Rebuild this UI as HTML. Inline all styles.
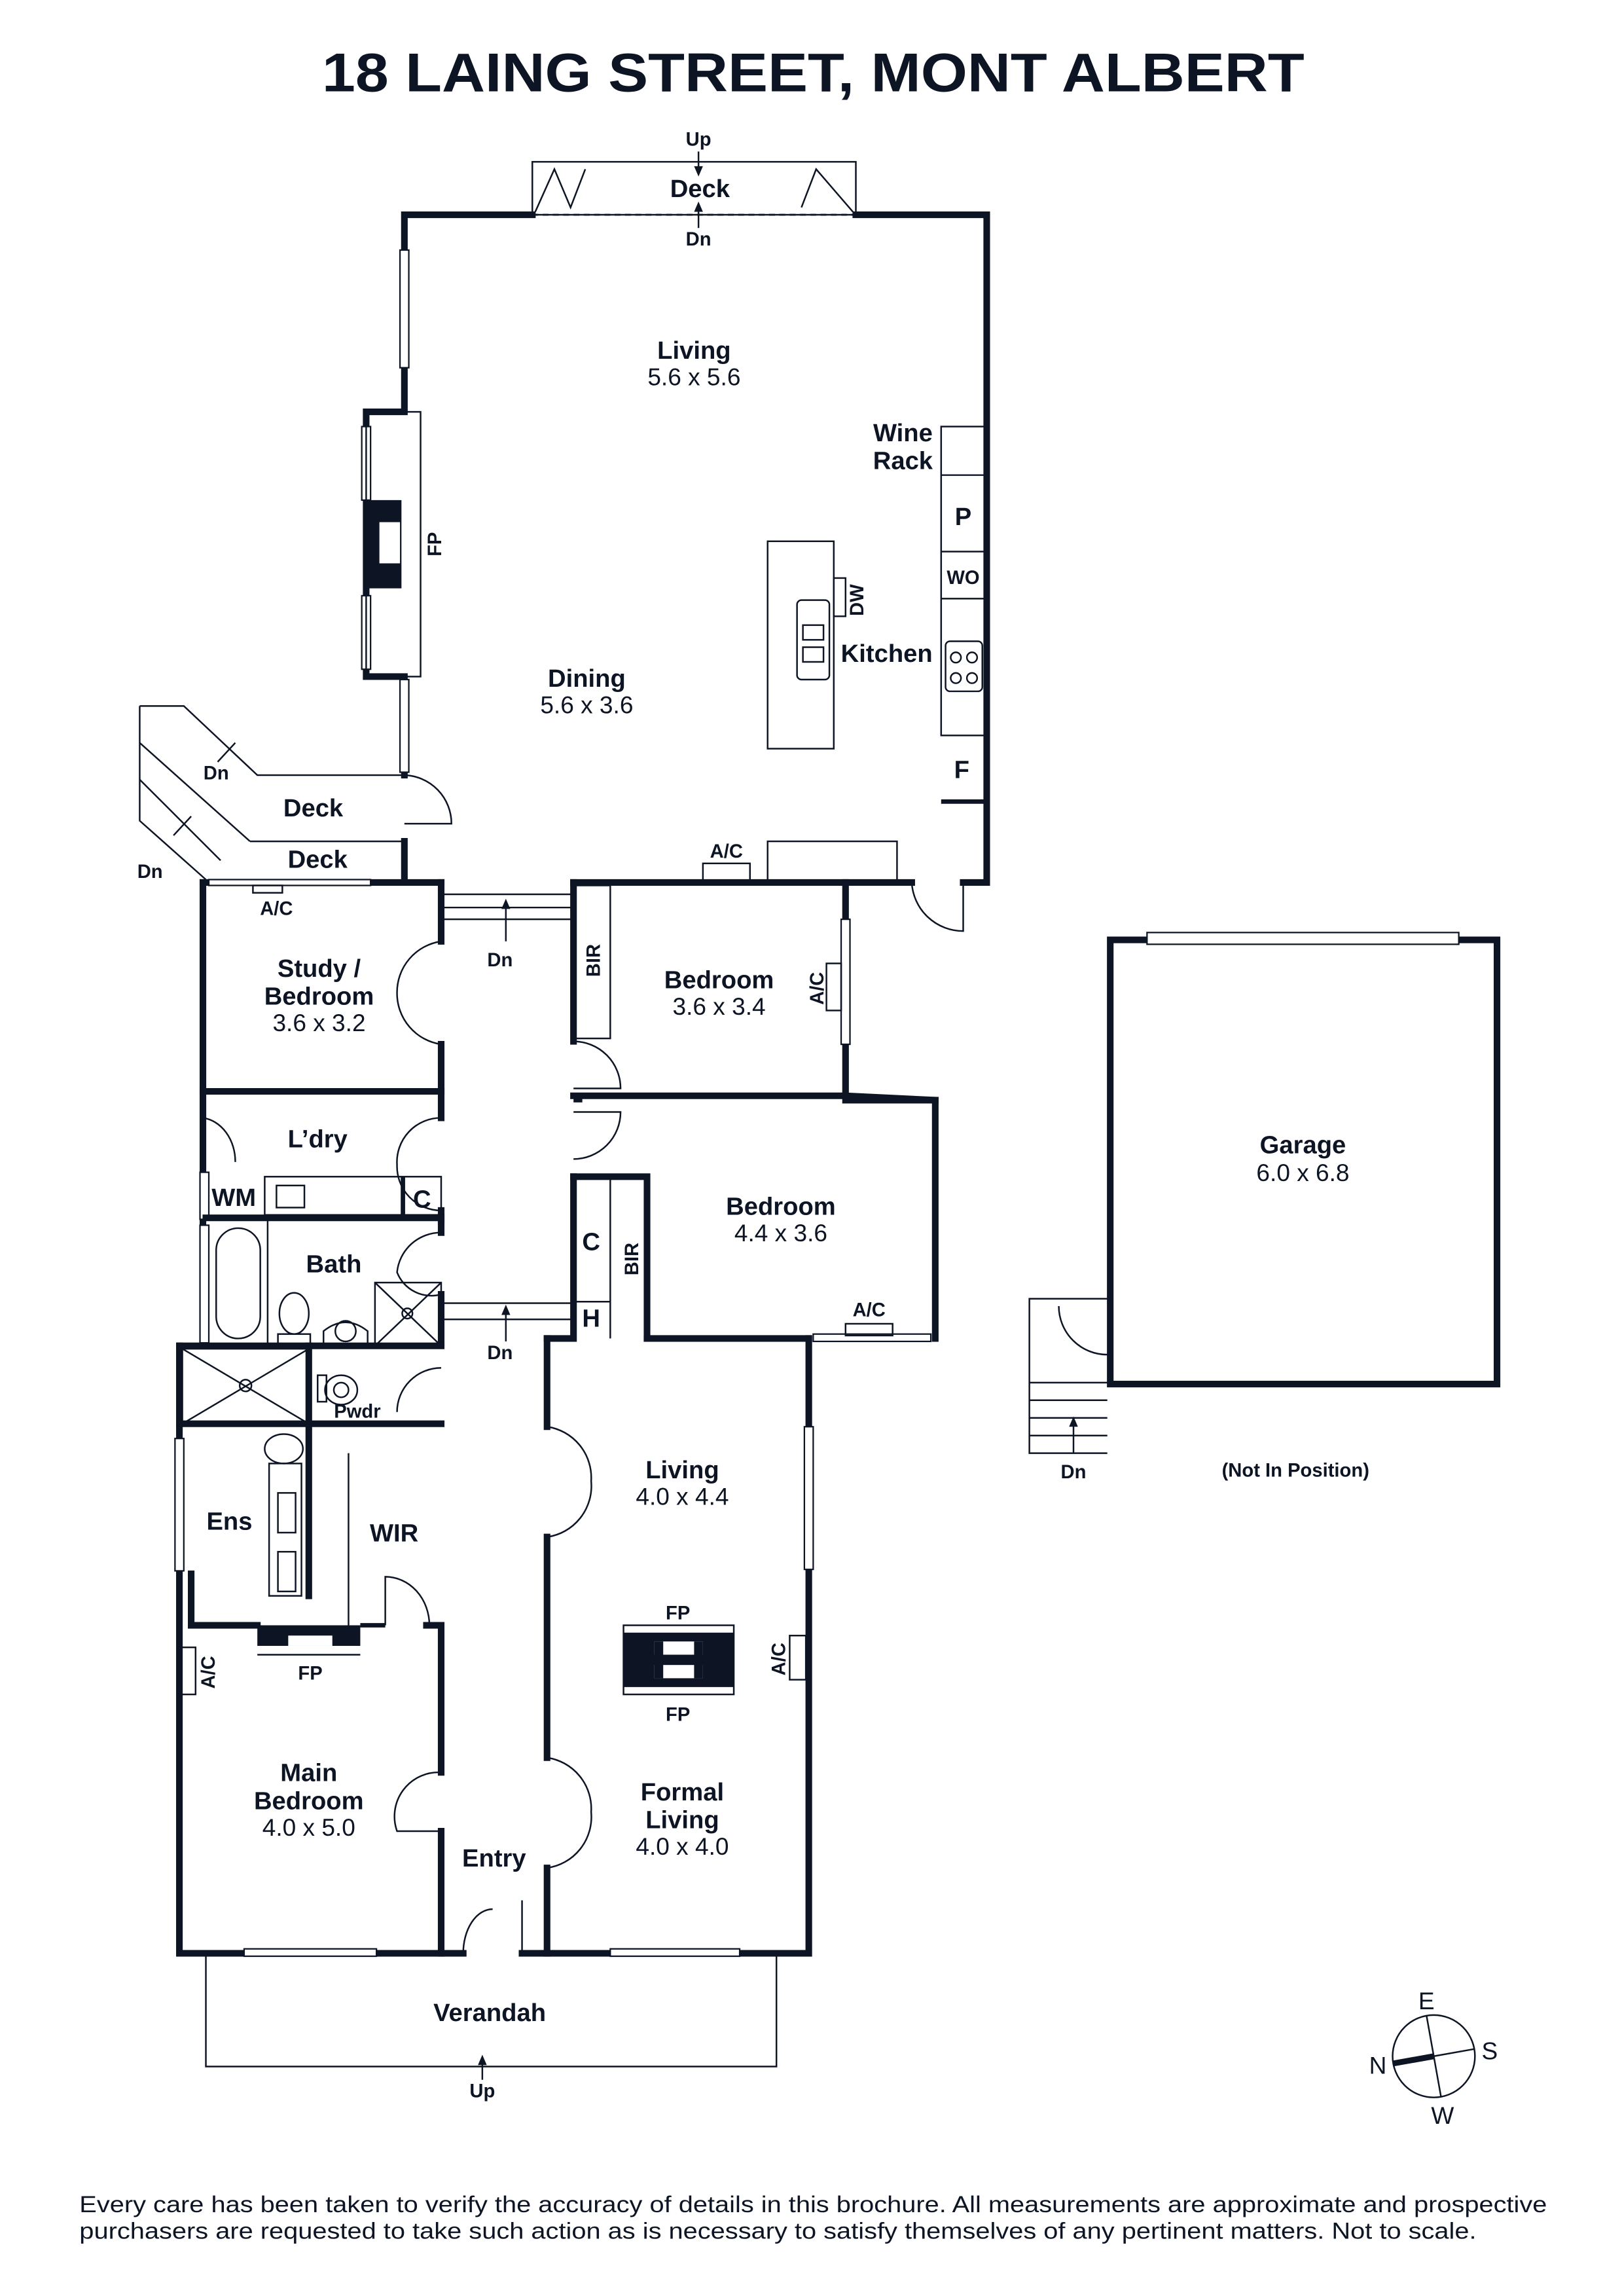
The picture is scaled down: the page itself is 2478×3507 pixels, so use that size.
<!DOCTYPE html>
<html><head><meta charset="utf-8"><style>
html,body{margin:0;padding:0;background:#fff}
svg{display:block}
text{font-family:"Liberation Sans",sans-serif;fill:#0d1524}
.b{font-weight:bold;font-size:17px}
.d{font-size:16.5px}
.s{font-weight:bold;font-size:13px}
.w{stroke:#0d1524;stroke-width:4.5;fill:none;stroke-linecap:square}
.t{stroke:#0d1524;stroke-width:1.1;fill:none}
.f{fill:#0d1524}
</style></head><body>
<svg width="2478" height="3507" viewBox="0 0 1103 1561" xmlns="http://www.w3.org/2000/svg">
<rect width="1103" height="1561" fill="#fff"/>
<text x="553" y="62" text-anchor="middle" font-weight="bold" font-size="37" textLength="668" lengthAdjust="spacingAndGlyphs">18 LAING STREET, MONT ALBERT</text>

<rect class="t" x="362" y="110" width="220" height="36"/>
<line x1="362" y1="146" x2="582" y2="146" stroke="#0d1524" stroke-width="1.3" stroke-dasharray="4,3"/>
<polyline class="t" points="364,144 377,115 388,141 398,115"/>
<polyline class="t" points="545,141 555,115 580,144"/>
<line class="t" x1="475" y1="103" x2="475" y2="118"/><path class="f" d="M472,113 L478,113 L475,120Z"/>
<line class="t" x1="475" y1="140" x2="475" y2="155"/><path class="f" d="M472,144 L478,144 L475,137Z"/>
<text class="s" x="475" y="99" text-anchor="middle">Up</text>
<text class="s" x="475" y="167" text-anchor="middle">Dn</text>
<text class="b" x="476" y="134" text-anchor="middle">Deck</text>

<polyline class="w" points="362,146 275,146 275,280 249,280 249,460 275,460 275,527"/>
<polyline class="w" points="582,146 671,146 671,600 655,600"/>
<polyline class="w" points="275,572 275,598"/>
<rect x="272" y="170" width="6" height="80" fill="#fff" stroke="#0d1524" stroke-width="1"/>
<rect x="246" y="290" width="6" height="50" fill="#fff" stroke="#0d1524" stroke-width="1"/>
<rect x="246" y="405" width="6" height="50" fill="#fff" stroke="#0d1524" stroke-width="1"/>
<rect x="272" y="462" width="6" height="63" fill="#fff" stroke="#0d1524" stroke-width="1"/>
<rect class="t" x="249" y="280" width="37" height="180"/>
<rect class="f" x="249" y="340" width="24" height="60"/>
<rect x="258" y="355" width="14" height="28" fill="#fff"/>
<text class="s" transform="translate(300,370) rotate(-90)" text-anchor="middle">FP</text>

<rect class="t" x="522" y="368" width="45" height="141"/>
<rect class="t" x="567" y="393" width="8" height="26"/>
<text class="s" transform="translate(587,408) rotate(-90)" text-anchor="middle">DW</text>
<rect class="t" x="542" y="408" width="22" height="54" rx="3"/>
<rect class="t" x="546" y="425" width="14" height="10"/><rect class="t" x="546" y="440" width="14" height="10"/>
<rect class="t" x="640" y="290" width="31" height="210"/>
<line class="t" x1="640" y1="323" x2="671" y2="323"/>
<line class="t" x1="640" y1="375" x2="671" y2="375"/>
<line class="t" x1="640" y1="407" x2="671" y2="407"/>
<rect class="t" x="643" y="436" width="25" height="34" rx="3"/>
<circle class="t" cx="650" cy="447" r="3.5"/><circle class="t" cx="661" cy="447" r="3.5"/>
<circle class="t" cx="650" cy="461" r="3.5"/><circle class="t" cx="661" cy="461" r="3.5"/>
<line x1="640" y1="545" x2="671" y2="545" stroke="#0d1524" stroke-width="3"/>
<text class="b" x="614" y="300" text-anchor="middle">Wine</text>
<text class="b" x="614" y="319" text-anchor="middle">Rack</text>
<text class="b" x="655" y="357" text-anchor="middle">P</text>
<text class="s" x="655" y="397" text-anchor="middle">WO</text>
<text class="b" x="603" y="450" text-anchor="middle">Kitchen</text>
<text class="b" x="654" y="529" text-anchor="middle">F</text>
<text class="b" x="472" y="244" text-anchor="middle">Living</text>
<text class="d" x="472" y="262" text-anchor="middle">5.6 x 5.6</text>
<text class="b" x="399" y="467" text-anchor="middle">Dining</text>
<text class="d" x="399" y="485" text-anchor="middle">5.6 x 3.6</text>
<rect class="t" x="478" y="587" width="32" height="12"/>
<text class="s" x="494" y="583" text-anchor="middle">A/C</text>
<rect class="t" x="522" y="572" width="88" height="27"/>
<path class="t" d="M620,600 A35,35 0 0 0 655,633 L655,600"/>

<polyline class="t" points="95,480 125,480 175,527 273,527"/>
<polyline class="t" points="95,480 95,558 140,598"/>
<line class="t" x1="95" y1="505" x2="170" y2="572"/>
<line class="t" x1="95" y1="530" x2="150" y2="585"/>
<polyline class="t" points="170,572 273,572"/>
<line class="t" x1="160" y1="505" x2="148" y2="518"/>
<line class="t" x1="130" y1="555" x2="118" y2="568"/>
<text class="s" x="147" y="530" text-anchor="middle">Dn</text>
<text class="s" x="102" y="597" text-anchor="middle">Dn</text>
<text class="b" x="213" y="555" text-anchor="middle">Deck</text>
<text class="b" x="216" y="590" text-anchor="middle">Deck</text>
<path class="t" d="M275,527 A33,33 0 0 1 307,560 L275,560"/>

<polyline class="w" points="138,600 300,600"/>
<polyline class="w" points="138,600 138,915"/>
<rect x="136" y="797" width="6" height="32" fill="#fff" stroke="#0d1524" stroke-width="1"/>
<rect x="136" y="833" width="6" height="80" fill="#fff" stroke="#0d1524" stroke-width="1"/>
<rect x="142" y="598" width="110" height="4" fill="#fff" stroke="#0d1524" stroke-width="1"/>
<rect class="t" x="172" y="602" width="20" height="5"/>
<text class="s" x="188" y="622" text-anchor="middle">A/C</text>
<polyline class="w" points="300,600 300,640"/><polyline class="w" points="300,710 300,742"/>
<path class="t" d="M300,640 A35,35 0 0 0 270,675 A35,35 0 0 0 300,710"/>
<text class="b" x="217" y="664" text-anchor="middle">Study /</text>
<text class="b" x="217" y="683" text-anchor="middle">Bedroom</text>
<text class="d" x="217" y="701" text-anchor="middle">3.6 x 3.2</text>
<polyline class="w" points="138,742 300,742"/>
<line class="t" x1="300" y1="608" x2="390" y2="608"/>
<line class="t" x1="300" y1="617" x2="390" y2="617"/>
<line class="t" x1="300" y1="625" x2="390" y2="625"/>
<line class="t" x1="344" y1="640" x2="344" y2="614"/><path class="f" d="M341,618 L347,618 L344,611Z"/>
<text class="s" x="340" y="657" text-anchor="middle">Dn</text>
<path class="t" d="M138,760 A25,30 0 0 1 160,790 M300,760 A30,30 0 0 0 270,792 A30,30 0 0 0 300,823"/>
<polyline class="w" points="300,742 300,760"/><polyline class="w" points="300,823 300,830"/>
<text class="b" x="216" y="780" text-anchor="middle">L’dry</text>
<rect class="t" x="180" y="800" width="120" height="26"/>
<rect class="t" x="188" y="806" width="19" height="15"/>
<line class="w" x1="140" y1="828" x2="300" y2="828"/>
<line x1="274" y1="800" x2="274" y2="828" stroke="#0d1524" stroke-width="3"/>
<text class="b" x="159" y="820" text-anchor="middle">WM</text>
<text class="b" x="287" y="821" text-anchor="middle">C</text>
<line class="t" x1="182" y1="828" x2="182" y2="915"/>
<rect class="t" x="147" y="835" width="30" height="75" rx="15"/>
<ellipse class="t" cx="200" cy="893" rx="10" ry="14"/>
<rect class="t" x="189" y="907" width="22" height="8"/>
<path class="t" d="M220,915 L220,905 Q235,893 250,905 L250,915"/><circle class="t" cx="235" cy="905" r="7"/>
<rect class="t" x="255" y="872" width="45" height="43"/>
<line class="t" x1="255" y1="872" x2="300" y2="915"/><line class="t" x1="300" y1="872" x2="255" y2="915"/>
<circle class="t" cx="277" cy="893" r="3.5"/>
<path class="t" d="M300,838 A30,30 0 0 0 270,865 A25,25 0 0 0 300,880"/>
<polyline class="w" points="300,828 300,838"/><polyline class="w" points="300,880 300,913"/>
<text class="b" x="227" y="865" text-anchor="middle">Bath</text>
<line class="t" x1="300" y1="886" x2="390" y2="886"/>
<line class="t" x1="300" y1="897" x2="390" y2="897"/>
<line class="t" x1="344" y1="912" x2="344" y2="890"/><path class="f" d="M341,894 L347,894 L344,887Z"/>
<text class="s" x="340" y="924" text-anchor="middle">Dn</text>

<polyline class="w" points="390,600 575,600 575,745 636,748 636,910"/>
<polyline class="w" points="575,600 620,600"/>
<rect x="572" y="625" width="6" height="85" fill="#fff" stroke="#0d1524" stroke-width="1"/>
<rect class="t" x="562" y="655" width="10" height="32"/>
<text class="s" transform="translate(560,672) rotate(-90)" text-anchor="middle">A/C</text>
<polyline class="w" points="390,600 390,708"/>
<rect class="t" x="390" y="602" width="25" height="104"/>
<text class="s" transform="translate(408,653) rotate(-90)" text-anchor="middle">BIR</text>
<path class="t" d="M390,708 A32,32 0 0 1 422,740 L390,740"/>
<polyline class="w" points="390,745 575,745"/>
<polyline class="w" points="575,748 636,748"/>
<line x1="390" y1="748" x2="396" y2="748" stroke="#0d1524" stroke-width="3"/>
<path class="t" d="M390,788 A32,32 0 0 0 422,756 L390,756"/>
<text class="b" x="489" y="672" text-anchor="middle">Bedroom</text>
<text class="d" x="489" y="690" text-anchor="middle">3.6 x 3.4</text>
<polyline class="w" points="390,800 390,910 372,910"/>
<polyline class="w" points="390,800 440,800 440,910"/>
<line class="t" x1="415" y1="800" x2="415" y2="910"/>
<line class="t" x1="390" y1="885" x2="415" y2="885"/>
<text class="b" x="402" y="850" text-anchor="middle">C</text>
<text class="s" transform="translate(434,856) rotate(-90)" text-anchor="middle">BIR</text>
<text class="b" x="402" y="902" text-anchor="middle">H</text>
<text class="b" x="531" y="826" text-anchor="middle">Bedroom</text>
<text class="d" x="531" y="844" text-anchor="middle">4.4 x 3.6</text>
<polyline class="w" points="440,910 550,910"/>
<rect x="553" y="907" width="80" height="5" fill="#fff" stroke="#0d1524" stroke-width="1"/>
<rect class="t" x="575" y="900" width="32" height="8"/>
<text class="s" x="591" y="895" text-anchor="middle">A/C</text>

<polyline class="w" points="122,915 300,915"/>
<polyline class="w" points="122,915 122,1328 300,1328 300,1245"/>
<polyline class="w" points="300,1205 300,1105 290,1105"/>
<rect x="119" y="978" width="6" height="90" fill="#fff" stroke="#0d1524" stroke-width="1"/>
<rect class="t" x="122" y="1120" width="11" height="32"/>
<text class="s" transform="translate(146,1137) rotate(-90)" text-anchor="middle">A/C</text>
<rect class="t" x="124" y="917" width="86" height="51"/>
<line class="t" x1="124" y1="917" x2="210" y2="968"/><line class="t" x1="210" y1="917" x2="124" y2="968"/>
<circle class="t" cx="167" cy="942" r="4"/>
<line class="w" x1="122" y1="968" x2="300" y2="968"/>
<line class="w" x1="210" y1="915" x2="210" y2="1085"/>
<ellipse class="t" cx="232" cy="945" rx="11" ry="10"/><circle class="t" cx="232" cy="945" r="5"/>
<rect class="t" x="216" y="935" width="6" height="18"/>
<text class="s" x="243" y="964" text-anchor="middle">Pwdr</text>
<path class="t" d="M300,930 A30,30 0 0 0 270,960"/>
<ellipse class="t" cx="193" cy="985" rx="13" ry="10"/>
<rect class="t" x="183" y="995" width="22" height="90"/>
<rect class="t" x="189" y="1015" width="12" height="27"/><rect class="t" x="189" y="1055" width="12" height="27"/>
<line class="t" x1="237" y1="988" x2="237" y2="1105"/>
<polyline class="w" points="130,1070 130,1105 175,1105"/>
<rect class="f" x="175" y="1105" width="70" height="14"/>
<rect x="196" y="1112" width="30" height="7" fill="#fff"/>
<line class="t" x1="175" y1="1125" x2="245" y2="1125"/>
<text class="s" x="211" y="1142" text-anchor="middle">FP</text>
<line x1="245" y1="1105" x2="262" y2="1105" stroke="#0d1524" stroke-width="3"/>
<path class="t" d="M262,1105 L262,1072 A30,33 0 0 1 292,1105"/>
<text class="b" x="156" y="1040" text-anchor="middle">Ens</text>
<text class="b" x="268" y="1048" text-anchor="middle">WIR</text>
<text class="b" x="210" y="1211" text-anchor="middle">Main</text>
<text class="b" x="210" y="1230" text-anchor="middle">Bedroom</text>
<text class="d" x="210" y="1248" text-anchor="middle">4.0 x 5.0</text>
<path class="t" d="M300,1205 A30,30 0 0 0 270,1245 L300,1245"/>
<rect x="166" y="1325" width="90" height="5" fill="#fff" stroke="#0d1524" stroke-width="1"/>
<polyline class="w" points="300,1328 315,1328"/><polyline class="w" points="355,1328 372,1328"/>
<path class="t" d="M315,1328 A20,30 0 0 1 335,1298 M355,1328 L355,1292"/>
<text class="b" x="336" y="1269" text-anchor="middle">Entry</text>
<polyline class="w" points="372,910 372,970"/>
<polyline class="w" points="372,1045 372,1195"/>
<polyline class="w" points="372,1270 372,1328 550,1328 550,910"/>
<path class="t" d="M372,970 A35,35 0 0 1 402,1007 A35,35 0 0 1 372,1045"/>
<path class="t" d="M372,1195 A35,35 0 0 1 402,1232 A35,35 0 0 1 372,1270"/>
<rect x="547" y="970" width="6" height="97" fill="#fff" stroke="#0d1524" stroke-width="1"/>
<rect class="t" x="537" y="1112" width="11" height="30"/>
<text class="s" transform="translate(534,1128) rotate(-90)" text-anchor="middle">A/C</text>
<rect x="415" y="1325" width="88" height="5" fill="#fff" stroke="#0d1524" stroke-width="1"/>
<rect class="t" x="424" y="1105" width="75" height="47"/>
<rect class="f" x="424" y="1110" width="75" height="37"/>
<rect x="445" y="1116" width="33" height="9" fill="#fff"/><rect x="445" y="1132" width="33" height="9" fill="#fff"/>
<rect class="f" x="445" y="1116" width="6" height="25"/><rect class="f" x="472" y="1116" width="6" height="25"/>
<text class="s" x="461" y="1101" text-anchor="middle">FP</text>
<text class="s" x="461" y="1170" text-anchor="middle">FP</text>
<text class="b" x="464" y="1005" text-anchor="middle">Living</text>
<text class="d" x="464" y="1023" text-anchor="middle">4.0 x 4.4</text>
<text class="b" x="464" y="1224" text-anchor="middle">Formal</text>
<text class="b" x="464" y="1243" text-anchor="middle">Living</text>
<text class="d" x="464" y="1261" text-anchor="middle">4.0 x 4.0</text>
<polyline class="t" points="140,1330 140,1405 528,1405 528,1330"/>
<text class="b" x="333" y="1374" text-anchor="middle">Verandah</text>
<line class="t" x1="328" y1="1414" x2="328" y2="1400"/><path class="f" d="M325,1404 L331,1404 L328,1397Z"/>
<text class="s" x="328" y="1426" text-anchor="middle">Up</text>

<rect class="w" x="755" y="639" width="263" height="302"/>
<rect x="780" y="634" width="212" height="8" fill="#fff" stroke="#0d1524" stroke-width="1"/>
<text class="b" x="886" y="784" text-anchor="middle">Garage</text>
<text class="d" x="886" y="803" text-anchor="middle">6.0 x 6.8</text>
<polyline class="t" points="753,883 700,883 700,988 753,988"/>
<path class="t" d="M720,888 A33,33 0 0 0 753,921"/>
<line class="t" x1="700" y1="940" x2="753" y2="940"/>
<line class="t" x1="700" y1="952" x2="753" y2="952"/>
<line class="t" x1="700" y1="964" x2="753" y2="964"/>
<line class="t" x1="700" y1="976" x2="753" y2="976"/>
<line class="t" x1="730" y1="988" x2="730" y2="966"/><path class="f" d="M727,970 L733,970 L730,963Z"/>
<text class="s" x="730" y="1005" text-anchor="middle">Dn</text>
<text class="s" x="881" y="1004" text-anchor="middle">(Not In Position)</text>

<circle class="t" cx="975" cy="1398" r="28"/>
<line class="t" x1="970" y1="1370" x2="980" y2="1426"/>
<line class="t" x1="975" y1="1398" x2="1003" y2="1393"/>
<line x1="947" y1="1403" x2="975" y2="1398" stroke="#0d1524" stroke-width="4"/>
<text class="d" x="970" y="1366" text-anchor="middle">E</text>
<text class="d" x="1013" y="1400" text-anchor="middle">S</text>
<text class="d" x="937" y="1410" text-anchor="middle">N</text>
<text class="d" x="981" y="1444" text-anchor="middle">W</text>

<text x="553" y="1504" text-anchor="middle" font-size="15.5" textLength="998" lengthAdjust="spacingAndGlyphs">Every care has been taken to verify the accuracy of details in this brochure. All measurements are approximate and prospective</text>
<text x="529" y="1522" text-anchor="middle" font-size="15.5" textLength="950" lengthAdjust="spacingAndGlyphs">purchasers are requested to take such action as is necessary to satisfy themselves of any pertinent matters. Not to scale.</text>
</svg>
</body></html>
